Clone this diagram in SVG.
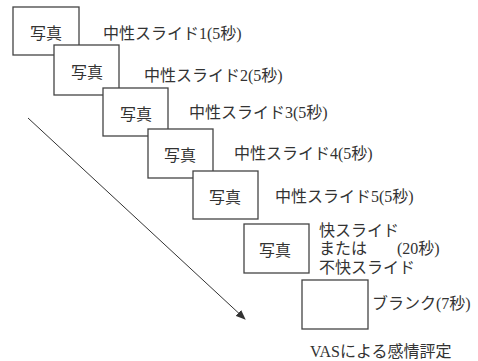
<svg xmlns="http://www.w3.org/2000/svg" width="478" height="361" viewBox="0 0 478 361">
<defs>
<style>
.box{fill:#fff;stroke:#444;stroke-width:1.3}
text{font-family:"Liberation Serif","Noto Sans CJK JP",serif;font-size:16px;fill:#333}
.c{text-anchor:middle}
.con{stroke:#333;stroke-width:1;fill:none}
</style>
<marker id="ah" markerWidth="10" markerHeight="8" refX="9" refY="4" orient="auto" markerUnits="userSpaceOnUse">
<path d="M0,0 L10,4 L0,8 Z" fill="#333"/>
</marker>
</defs>
<rect width="478" height="361" fill="#fff"/>
<g id="connectors">
<line class="con" x1="28" y1="118" x2="245" y2="319" marker-end="url(#ah)"/>
</g>
<g id="n1"><rect class="box" x="13" y="7" width="66" height="48"/><text class="c" x="46" y="39">写真</text><text x="103" y="39">中性スライド1(5秒)</text></g>
<g id="n2"><rect class="box" x="54" y="45" width="65" height="50"/><text class="c" x="87" y="78">写真</text><text x="144" y="81">中性スライド2(5秒)</text></g>
<g id="n3"><rect class="box" x="103" y="88" width="65" height="48"/><text class="c" x="136" y="120">写真</text><text x="189" y="118">中性スライド3(5秒)</text></g>
<g id="n4"><rect class="box" x="148" y="129" width="65" height="49"/><text class="c" x="180" y="161">写真</text><text x="234" y="159">中性スライド4(5秒)</text></g>
<g id="n5"><rect class="box" x="193" y="171" width="65" height="48"/><text class="c" x="225" y="203">写真</text><text x="275" y="202">中性スライド5(5秒)</text></g>
<g id="n6"><rect class="box" x="244" y="224" width="65" height="49"/><text class="c" x="275" y="256">写真</text><text x="319" y="236">快スライド</text><text x="319" y="254">または</text><text x="319" y="273">不快スライド</text><text x="397" y="254">(20秒)</text></g>
<g id="n7"><rect class="box" x="302" y="280" width="66" height="49"/><text x="372" y="309">ブランク(7秒)</text></g>
<g id="n8"><text x="310" y="357">VASによる感情評定</text></g>
</svg>
